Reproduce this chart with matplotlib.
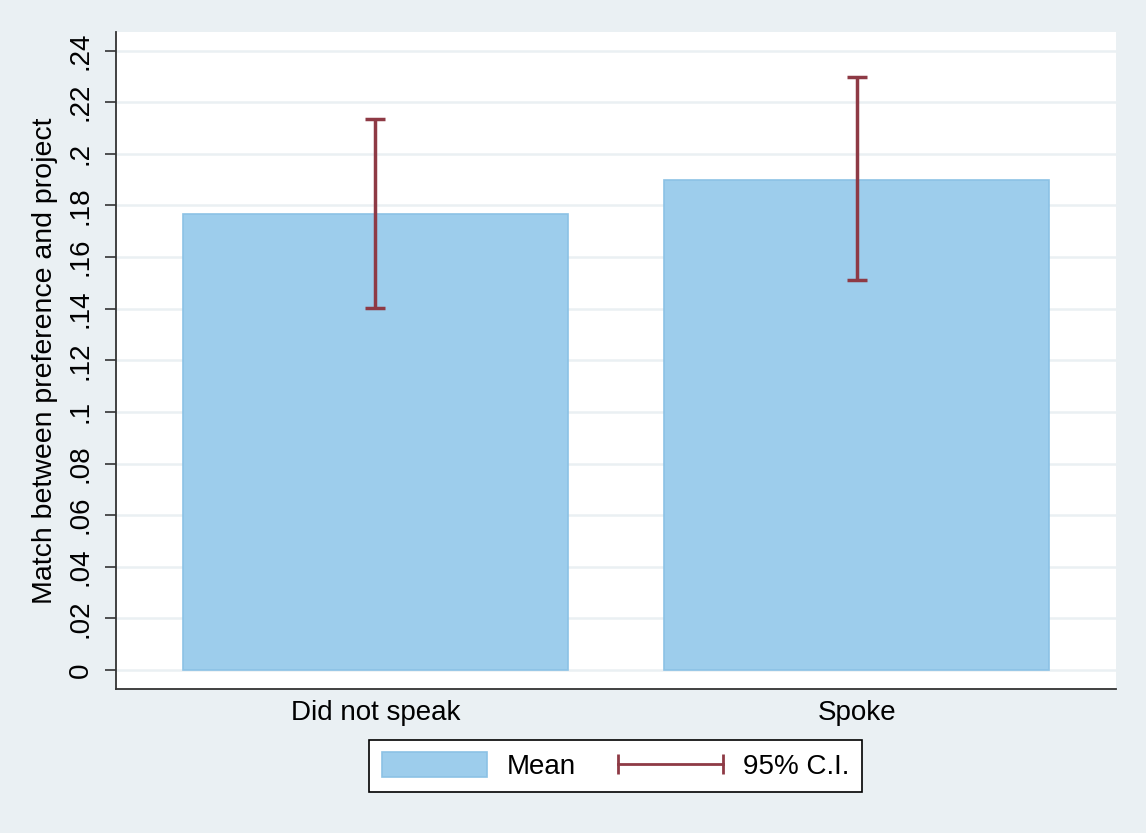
import matplotlib
matplotlib.use("Agg")
import matplotlib.pyplot as plt
from matplotlib.patches import Patch
from matplotlib.lines import Line2D
from matplotlib.legend_handler import HandlerBase

plt.rcParams['font.family'] = ['Liberation Sans', 'DejaVu Sans']

categories = ["Did not speak", "Spoke"]
means = [0.1768, 0.1900]
ci_low = [0.1401, 0.1510]
ci_high = [0.2133, 0.2299]
yticks = [0, 0.02, 0.04, 0.06, 0.08, 0.10, 0.12, 0.14, 0.16, 0.18, 0.20, 0.22, 0.24]
ytick_labels = ["0", ".02", ".04", ".06", ".08", ".1", ".12", ".14", ".16", ".18", ".2", ".22", ".24"]

BG = "#EAF0F3"
BAR = "#9DCDEC"
BAR_EDGE = "#8CC2E5"
ERR = "#8E3A45"
FS = 20

fig = plt.figure(figsize=(11.46, 8.33), dpi=100)
fig.patch.set_facecolor(BG)
ax = fig.add_axes([116/1146, 1-689/833, 1000/1146, (689-32)/833])
ax.set_facecolor("white")

x = list(range(len(categories)))
ax.bar(x, means, width=0.8, color=BAR, edgecolor=BAR_EDGE, linewidth=1.2, zorder=2)
yerr_low = [m - l for m, l in zip(means, ci_low)]
yerr_high = [h - m for m, h in zip(means, ci_high)]
ax.errorbar(x, means, yerr=[yerr_low, yerr_high], fmt='none', ecolor=ERR,
            elinewidth=2.5, capsize=7, capthick=2.5, zorder=3)

ax.set_xlim(-0.539, 1.539)
ax.set_ylim(-0.00735, 0.2472)
ax.set_yticks(yticks)
ax.set_yticklabels(ytick_labels, rotation=90, va='center', fontsize=FS)
ax.set_xticks(x)
ax.set_xticklabels(categories, fontsize=FS)
ax.tick_params(axis='x', length=0, pad=8)
ax.tick_params(axis='y', length=8, width=1.2, color='#333333', pad=8)
ax.yaxis.grid(True, color=BG, linewidth=1.8, zorder=0)
ax.set_axisbelow(True)
for s in ['top', 'right']:
    ax.spines[s].set_visible(False)
for s in ['left', 'bottom']:
    ax.spines[s].set_color('#333333')
    ax.spines[s].set_linewidth(1.3)
ax.set_ylabel("Match between preference and project", fontsize=20.5, labelpad=7)


class HandlerCI(HandlerBase):
    def create_artists(self, legend, orig_handle, xdescent, ydescent, width, height, fontsize, trans):
        y = height / 2 - ydescent
        x0, x1 = -xdescent, -xdescent + width
        line = Line2D([x0, x1], [y, y], color=ERR, lw=2)
        caps = Line2D([x0, x1], [y, y], color=ERR, marker='|', markersize=14,
                      markeredgewidth=2, linestyle='none')
        line.set_transform(trans)
        caps.set_transform(trans)
        return [line, caps]


h_mean = Patch(facecolor=BAR, edgecolor=BAR_EDGE, linewidth=1.2)
h_ci = Line2D([], [], color=ERR)
leg = fig.legend([h_mean, h_ci], ["Mean", "95% C.I."], loc='center',
                 bbox_to_anchor=(615.5/1146, 1-766/833), ncol=2, fontsize=FS,
                 handler_map={h_ci: HandlerCI()}, handlelength=3.8, handleheight=1.0,
                 handletextpad=0.7, columnspacing=1.5, borderpad=0.45,
                 fancybox=False, framealpha=1, edgecolor='black')
leg.get_frame().set_linewidth(1.2)

fig.savefig("out.png", dpi=100, facecolor=BG)
